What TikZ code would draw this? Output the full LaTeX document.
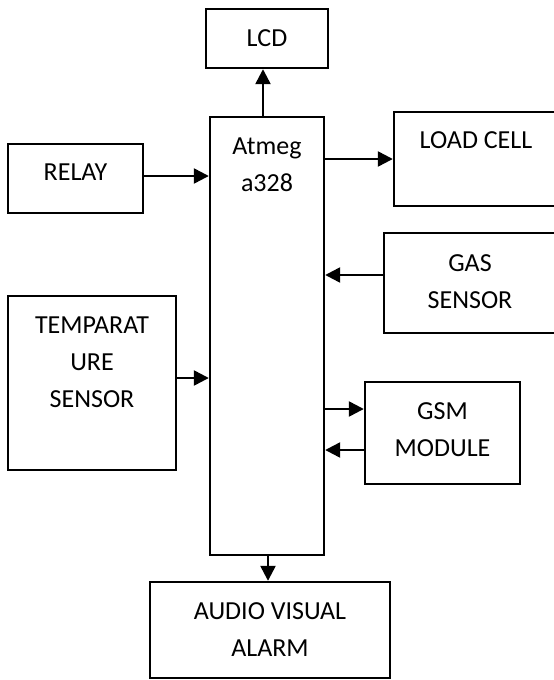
\documentclass[tikz,border=0pt]{standalone}
\usepackage{fontspec}
\setmainfont{Carlito}
\usetikzlibrary{arrows.meta}
\begin{document}
\begin{tikzpicture}[x=1pt,y=-1pt,
  blk/.style={draw,line width=2.4pt,inner sep=0pt},
  lbl/.style={inner sep=0pt,align=center,font=\fontsize{26}{37}\selectfont},
  arr/.style={line width=2.4pt,-{Triangle[length=15pt,width=15pt]}}]
\useasboundingbox (0,0) rectangle (554,680);
\node[blk,minimum width=122pt,minimum height=59pt] (lcd) at (267,38.5) {};
\node[lbl] (lcdtext) at (267,38) {LCD};
\node[blk,minimum width=114pt,minimum height=438pt] (mcu) at (267,336) {};
\node[lbl] (mcutext) at (267,165) {Atmeg\\a328};
\node[blk,minimum width=135pt,minimum height=69pt] (relay) at (75.5,178.5) {};
\node[lbl] (relaytext) at (75.5,172) {RELAY};
\node[blk,minimum width=166pt,minimum height=94pt] (load) at (477,159) {};
\node[lbl] (loadtext) at (476,140) {LOAD CELL};
\node[blk,minimum width=174pt,minimum height=100pt] (gas) at (471,283) {};
\node[lbl] (gastext) at (470,281.5) {GAS\\SENSOR};
\node[blk,minimum width=168pt,minimum height=174pt] (temp) at (92,383) {};
\node[lbl] (temptext) at (92,362.5) {TEMPARAT\\URE\\SENSOR};
\node[blk,minimum width=155pt,minimum height=102pt] (gsm) at (442.5,433) {};
\node[lbl] (gsmtext) at (442.5,429.5) {GSM\\MODULE};
\node[blk,minimum width=240pt,minimum height=96pt] (alarm) at (270,630) {};
\node[lbl] (alarmtext) at (270,630) {AUDIO VISUAL\\ALARM};
\draw[arr] ([xshift=-4pt]mcu.north) -- ([xshift=-4pt]lcd.south);
\draw[arr] ([yshift=2.5pt]relay.east) -- ([yshift=2.5pt]relay.east -| mcu.west);
\draw[arr] (load.west -| mcu.east) -- (load.west);
\draw[arr] ([yshift=8pt]gas.west) -- ([yshift=8pt]gas.west -| mcu.east);
\draw[arr] ([yshift=5pt]temp.east) -- ([yshift=5pt]temp.east -| mcu.west);
\draw[arr] ([yshift=24pt]gsm.west -| mcu.east) -- ([yshift=24pt]gsm.west);
\draw[arr] ([yshift=-17pt]gsm.west) -- ([yshift=-17pt]gsm.west -| mcu.east);
\draw[arr] ([xshift=1pt]mcu.south) -- ([xshift=1pt]mcu.south |- alarm.north);
\end{tikzpicture}
\end{document}
